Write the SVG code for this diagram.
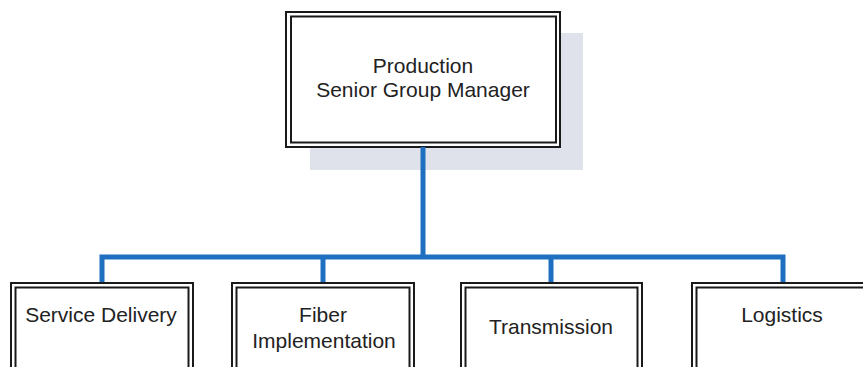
<svg xmlns="http://www.w3.org/2000/svg" width="863" height="367" viewBox="0 0 863 367">
<style>
.o{fill:#fff;stroke:#1a1a1a;stroke-width:2}
.i{fill:none;stroke:#1a1a1a;stroke-width:2}
.t{font-family:"Liberation Sans",Arial,sans-serif;font-size:21px;fill:#222;text-anchor:middle}
.c{fill:none;stroke:#1f6fc0;stroke-width:5;stroke-linejoin:miter}
</style>
<rect width="863" height="367" fill="#fff"/>
<g id="manager">
<rect x="310" y="33" width="273" height="137" fill="#dfe2ea"/>
<rect class="o" x="286" y="12" width="274" height="135"/>
<rect class="i" x="291" y="16.5" width="265" height="126"/>
<text class="t" x="423" y="73">Production</text>
<text class="t" x="423" y="97">Senior Group Manager</text>
</g>
<g id="connectors">
<path class="c" d="M423,147 V257"/>
<path class="c" d="M102,283 V257 H783 V283"/>
<path class="c" d="M323,257 V283"/>
<path class="c" d="M551,257 V283"/>
</g>
<g id="service-delivery">
<rect class="o" x="11" y="283" width="182" height="100"/>
<rect class="i" x="15.5" y="287.5" width="173" height="100"/>
<text class="t" x="101" y="322">Service Delivery</text>
</g>
<g id="fiber-implementation">
<rect class="o" x="232" y="283" width="182" height="100"/>
<rect class="i" x="236.5" y="287.5" width="173" height="100"/>
<text class="t" x="323" y="322">Fiber</text>
<text class="t" x="324" y="348">Implementation</text>
</g>
<g id="transmission">
<rect class="o" x="461" y="283" width="181" height="100"/>
<rect class="i" x="465.5" y="287.5" width="172" height="100"/>
<text class="t" x="551" y="334">Transmission</text>
</g>
<g id="logistics">
<rect class="o" x="692" y="283" width="190" height="100"/>
<rect class="i" x="696.5" y="287.5" width="180" height="100"/>
<text class="t" x="782" y="322">Logistics</text>
</g>
</svg>
